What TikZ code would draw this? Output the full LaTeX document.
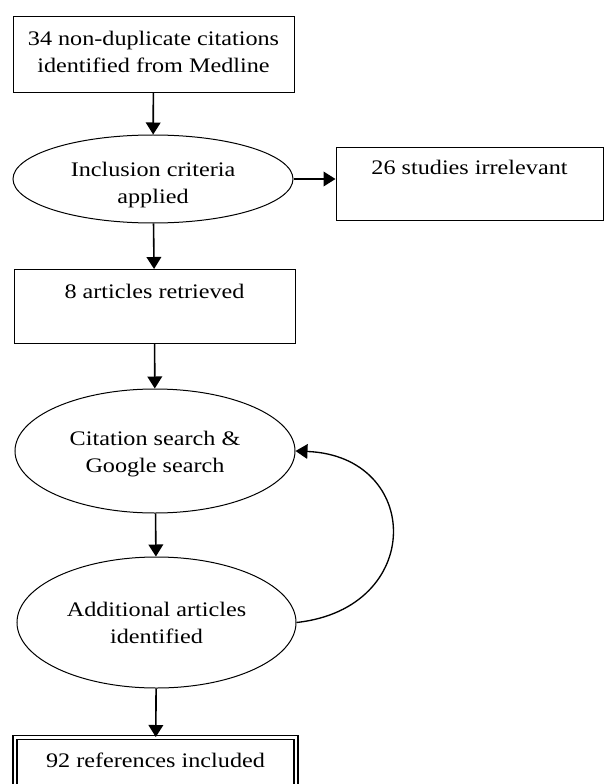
\documentclass[tikz,border=0pt]{standalone}
\usepackage{fontspec}
\setmainfont[FakeStretch=1.17]{Liberation Serif}
\usepackage{tikz}
\usetikzlibrary{arrows.meta,shapes}

\begin{document}
\begin{tikzpicture}
            [
            x=0.75pt, y=-0.75pt,
            font=\fontsize{15.5}{20.25}\selectfont,
            block/.style={rectangle,draw,line width=0.75pt,align=center,minimum width=210.75pt,inner ysep=0pt},
            oval/.style={ellipse,draw,line width=0.75pt,align=center,inner sep=0pt},
            edge/.style={line width=1.2pt,-{Triangle[width=11pt,length=9pt]}}
            ]
        \useasboundingbox (0,0) rectangle (604,784);
        \clip (0,0) rectangle (604,784);
        \node[block,anchor=north,text height=42pt,text depth=15pt] (1) at (153.5,16) {34 non-duplicate citations\\identified from Medline};
        \node[oval,minimum width=210pt,minimum height=66pt,text height=39.4pt] (2) at (153,179) {Inclusion criteria\\applied};
        \node[block,anchor=north,minimum width=200.25pt,text height=20.25pt,text depth=34.5pt] (3) at (469.5,147) {26 studies irrelevant};
        \node[block,anchor=north,text height=21.75pt,text depth=33.75pt] (4) at (154.5,269) {8 articles retrieved};
        \node[oval,minimum width=210pt,minimum height=93pt,text height=34.9pt] (5) at (155,451) {Citation search \&\\Google search};
        \node[oval,minimum width=209.25pt,minimum height=98.25pt] (6) at (156.5,622.5) {Additional articles\\identified};
        \node[block,anchor=north,double,line width=1pt,double distance=2pt,text height=22.5pt,text depth=45pt] (7) at (155.5,737) {92 references included};
        \draw[edge] (1) -- (2);
        \draw[edge] (2.east) -- (2.east -| 3.west);
        \draw[edge] (2) -- (4);
        \draw[edge] (4) -- (5);
        \draw[edge] (5) -- (6);
        \draw[edge] (6) -- (7);
        \draw[edge,line width=1pt] (6.east) .. controls +(129,-14) and +(127,5) .. (5.east);
        \end{tikzpicture}
\end{document}
